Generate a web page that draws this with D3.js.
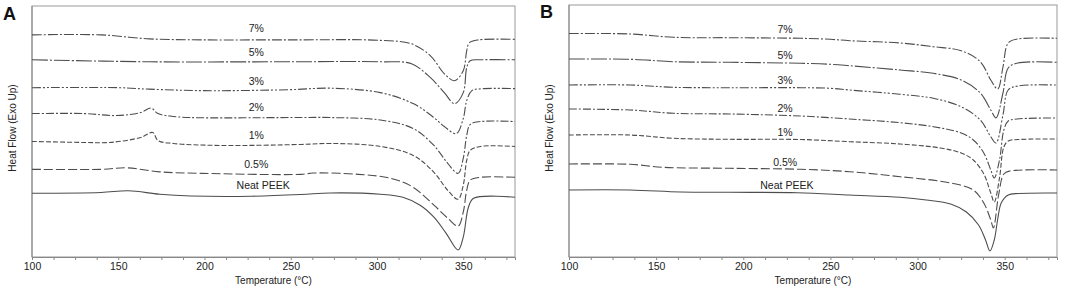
<!DOCTYPE html>
<html>
<head>
<meta charset="utf-8">
<script src="https://cdn.jsdelivr.net/npm/d3@7"></script>
<style>
  html, body { margin: 0; padding: 0; background: #fff; }
  svg { display: block; font-family: "Liberation Sans", Arial, sans-serif; }
</style>
</head>
<body>
<svg id="chart" width="1065" height="290"></svg>
<script>
// series names, top to bottom
const seriesNames = ['7%', '5%', '3%', '2%', '1%', '0.5%', 'Neat PEEK'];
const xTickLabels = [100, 150, 200, 250, 300, 350];

// panel A: [temperature °C, heat flow a.u. (stacked offsets)]
const a7 = [[100,223],[140,223],[168,219],[200,218],[250,218],[302,217.5],[320,214],[331,202],[339,184],[345,177],[350,187],[352,207],[353.5,215],[359,218],[380,218.5]];
const a5 = [[100,198],[168,196],[250,196],[302,196],[320,194],[331,180],[339,165],[345,154],[350,165],[352,190],[354,197],[360,198],[380,198]];
const a3 = [[100,170],[150,170],[168,168.5],[200,167],[250,168],[273,169.5],[302,165],[321,154],[333,140],[339,131],[346,124],[350,139],[352,157],[355,167],[362,169],[380,169]];
const a2 = [[100,144],[130,144],[149,142],[163,145],[169,149.5],[173,144],[180,141.5],[192,140],[250,140],[273,140],[302,137.5],[321,129],[333,112],[341,94],[347,84],[350,99],[352,122],[354,133],[360,136],[380,136]];
const a1 = [[100,116],[130,115],[145,115],[163,120],[170,125],[173,117],[182,114],[209,112],[256,113],[273,114],[302,111],[321,102],[333,85],[341,67],[347,58],[350,72],[352,97],[354,107],[360,111],[380,111]];
const a05 = [[100,88],[140,88],[155,89.5],[174,85.5],[198,84],[256,83],[263,84.3],[289,83],[308,79],[321,70],[333,52],[341,39],[347,31],[350,45],[352,67],[354,77],[360,80],[380,80]];
const aNeat = [[100,64],[140,64.8],[156,66.5],[174,63],[192,61.3],[227,61],[256,62.7],[273,64.3],[302,63],[315,60],[325,52],[333,40],[340,24],[347,7],[350,20],[353,50],[356,59],[380,60]];

// panel B
const b7 = [[100,223.5],[135,223],[160,219.7],[192,219.3],[233,218.7],[250,217.7],[261,216.3],[290,214],[309,210.3],[325,206.3],[336,195.3],[342,177],[346,168],[349,190],[352,214],[357.5,218],[380,218.7]];
const b5 = [[100,198],[135,197.7],[160,195.3],[192,194.7],[233,193.7],[250,192.7],[261,191.3],[290,187],[309,183.7],[325,177],[336,164],[342,147],[345,139],[349,164],[352,189],[357.5,194],[380,194.7]];
const b3 = [[100,172],[135,172],[160,169.7],[192,169.3],[233,169.3],[250,168.7],[261,167],[290,162.7],[309,158.7],[325,150.3],[336,137],[342,120.3],[345,114],[349,142],[352,167],[357.5,171],[380,172]];
const b2 = [[100,148],[135,147],[160,143.7],[192,143],[233,141],[261,138],[290,134.3],[309,130.3],[325,124],[332,117],[338,104],[342,87],[344,79],[347,97],[349.5,127],[352,136],[357,138],[380,139]];
const b1 = [[100,122],[135,122],[160,118.7],[192,117.7],[233,117.5],[261,115.3],[290,113],[313,109],[325,104],[332,97],[338,83],[342,64],[344,55],[347,79],[349.5,110],[352,116],[358,117.5],[380,118]];
const b05 = [[100,93],[135,92.7],[154,89.7],[192,88.7],[233,87.7],[261,85.3],[290,80.3],[319,74],[332,67],[338,54],[342,37],[343.5,29],[346.5,62],[349.5,83],[353,86],[380,87]];
const bNeat = [[100,67],[135,67],[164,65],[192,64.7],[231,64.3],[261,62],[290,59.7],[305,57],[319,53],[328,45],[335,32],[339,17],[341.5,6],[344,17],[346,38],[348,54],[352,62],[358,63.5],[380,64]];

// label anchor points [temperature, heat flow]
const aLabels = [[230,229],[230,205],[230,175],[230,149],[230,121],[230,92],[234,71]];
const bLabels = [[224,227],[224,201],[224,176],[224,148],[224,124],[224,94],[225,71]];

const dashes = {
  '7%': '10,2,2,2',
  '5%': '16,2,2,2',
  '3%': '9,2,2,2,2,2',
  '2%': '8,2,2,2',
  '1%': '5,2',
  '0.5%': '9,3',
  'Neat PEEK': null
};

const svg = d3.select('#chart');

function drawPanel(opts) {
  const { left, right, top, bottom, letter, series, labels } = opts;
  const x = d3.scaleLinear().domain([100, 380]).range([left, right]);
  const y = d3.scaleLinear().domain([0, 252]).range([bottom, top]);
  const g = svg.append('g');

  // frame
  g.append('rect')
    .attr('x', left).attr('y', top)
    .attr('width', right - left).attr('height', bottom - top)
    .attr('fill', 'none').attr('stroke', '#999').attr('stroke-width', 1);

  const ax = g.append('g')
    .attr('transform', `translate(0,${bottom})`)
    .call(d3.axisBottom(x)
      .tickValues(d3.range(100, 381, 12.5))
      .tickSize(3)
      .tickFormat(d => xTickLabels.includes(d) ? d : ''));
  ax.select('.domain').attr('stroke', '#888');
  ax.selectAll('.tick line').attr('stroke', '#888');
  ax.selectAll('.tick text')
    .attr('fill', '#222')
    .style('font-size', '10.5px')
    .attr('y', 6);

  g.append('line')
    .attr('x1', left).attr('x2', left)
    .attr('y1', top).attr('y2', bottom)
    .attr('stroke', '#888');

  const line = d3.line()
    .x(d => x(d[0]))
    .y(d => y(d[1]))
    .curve(d3.curveCatmullRom.alpha(0.5));

  series.forEach((s, i) => {
    g.append('path')
      .datum(s)
      .attr('d', line)
      .attr('fill', 'none')
      .attr('stroke', '#4d4d4d')
      .attr('stroke-width', 1.1)
      .attr('stroke-dasharray', dashes[seriesNames[i]]);
  });

  g.selectAll('text.lbl')
    .data(labels)
    .enter().append('text')
    .attr('class', 'lbl')
    .attr('x', d => x(d[0]))
    .attr('y', d => y(d[1]))
    .attr('text-anchor', 'middle')
    .attr('dominant-baseline', 'middle')
    .attr('fill', '#222')
    .style('font-size', '10.5px')
    .text((d, i) => seriesNames[i]);

  g.append('text')
    .attr('x', (left + right) / 2)
    .attr('y', 284)
    .attr('text-anchor', 'middle')
    .attr('fill', '#222')
    .style('font-size', '10px')
    .text('Temperature (°C)');

  g.append('text')
    .attr('transform', `translate(${left - 16},128) rotate(-90)`)
    .attr('text-anchor', 'middle')
    .attr('fill', '#222')
    .style('font-size', '10px')
    .text('Heat Flow (Exo Up)');

  g.append('text')
    .attr('x', left - 29)
    .attr('y', opts.letterY)
    .attr('fill', '#111')
    .style('font-size', '18px')
    .style('font-weight', 'bold')
    .text(letter);
}

drawPanel({ left: 32, right: 515, top: 6, bottom: 257, letter: 'A', letterY: 20,
  series: [a7, a5, a3, a2, a1, a05, aNeat], labels: aLabels });
drawPanel({ left: 569, right: 1057, top: 5, bottom: 257, letter: 'B', letterY: 18,
  series: [b7, b5, b3, b2, b1, b05, bNeat], labels: bLabels });
</script>
</body>
</html>
